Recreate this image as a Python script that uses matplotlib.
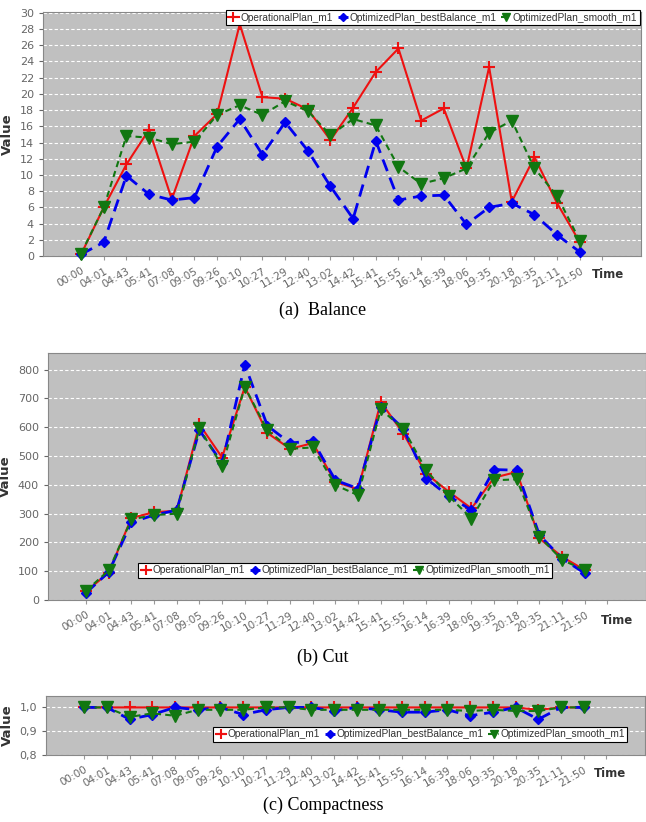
import matplotlib
matplotlib.use("Agg")
from matplotlib import pyplot as plt
from matplotlib.ticker import MultipleLocator, FuncFormatter

times = ["00:00", "04:01", "04:43", "05:41", "07:08", "09:05", "09:26", "10:10",
         "10:27", "11:29", "12:40", "13:02", "14:42", "15:41", "15:55", "16:14",
         "16:39", "18:06", "19:35", "20:18", "20:35", "21:11", "21:50"]
series_names = ["OperationalPlan_m1", "OptimizedPlan_bestBalance_m1", "OptimizedPlan_smooth_m1"]

# (a) Balance
balance_op = [0.2, 6.0, 11.3, 15.6, 7.0, 14.8, 17.5, 28.6, 19.6, 19.4, 18.1, 14.3,
              18.3, 22.7, 25.6, 16.7, 18.2, 10.8, 23.3, 6.7, 12.2, 6.5, 1.7]
balance_best = [0.2, 1.7, 9.9, 7.6, 6.9, 7.2, 13.5, 16.9, 12.5, 16.5, 13.0, 8.6,
                4.6, 14.2, 6.9, 7.4, 7.5, 3.9, 6.0, 6.5, 5.1, 2.6, 0.5]
balance_smooth = [0.3, 6.0, 14.8, 14.6, 13.8, 14.1, 17.4, 18.6, 17.4, 19.1, 17.9, 14.9,
                  16.9, 16.1, 11.0, 8.9, 9.6, 10.8, 15.2, 16.7, 10.8, 7.4, 1.9]

# (b) Cut
cut_op = [30, 95, 285, 305, 310, 610, 495, 740, 580, 525, 545, 410,
          385, 688, 578, 439, 376, 318, 425, 445, 214, 150, 104]
cut_best = [25, 97, 270, 295, 312, 590, 475, 818, 605, 545, 553, 416,
            387, 670, 595, 422, 361, 312, 453, 451, 225, 144, 93]
cut_smooth = [32, 103, 280, 295, 300, 597, 465, 740, 590, 525, 530, 399,
              364, 662, 595, 451, 361, 283, 416, 419, 220, 139, 104]

# (c) Compactness
comp_op = [1.0, 1.0, 1.0, 1.0, 1.0, 1.0, 1.0, 1.0, 1.0, 1.0, 1.0, 1.0,
           1.0, 1.0, 1.0, 1.0, 1.0, 1.0, 1.0, 1.0, 0.99, 1.0, 1.0]
comp_best = [1.0, 1.0, 0.95, 0.97, 1.0, 0.99, 1.0, 0.97, 0.99, 1.0, 1.0, 0.985,
             1.0, 0.99, 0.98, 0.98, 0.99, 0.965, 0.98, 1.0, 0.95, 1.0, 1.0]
comp_smooth = [1.0, 1.0, 0.96, 0.975, 0.965, 0.99, 0.99, 0.99, 1.0, 1.0, 0.99, 0.99,
               0.99, 0.99, 0.99, 0.99, 0.99, 0.985, 0.99, 0.985, 0.985, 1.0, 1.0]

W, H = 646, 822
fig = plt.figure(figsize=(W / 100, H / 100), dpi=100)

RED = "#ee1111"
BLUE = "#0000ee"
GREEN = "#117711"
TICK_C = "#666666"


def box(left, top, right, bottom):
    return [left / W, 1 - bottom / H, (right - left) / W, (bottom - top) / H]


def draw_panel(rect, op, best, smooth, ylim, step, fmt, legend_loc, time_xy, caption, cap_y):
    ax = fig.add_axes(box(*rect))
    x = list(range(len(times)))
    ax.set_facecolor("#c0c0c0")
    ax.plot(x, op, color=RED, lw=1.5, marker="+", ms=9, mew=1.5, clip_on=False,
            label=series_names[0], zorder=3)
    ax.plot(x, best, color=BLUE, lw=2, ls=(0, (4.5, 2.5)), marker="D", ms=5.5, clip_on=False,
            label=series_names[1], zorder=4)
    ax.plot(x, smooth, color=GREEN, lw=1.5, ls=(0, (3, 2)), marker="v", ms=8, clip_on=False,
            label=series_names[2], zorder=5)
    ax.set_xlim(-1.68, 24.7)
    ax.set_ylim(*ylim)
    ax.yaxis.set_major_locator(MultipleLocator(step))
    ax.yaxis.set_major_formatter(FuncFormatter(fmt))
    ax.yaxis.grid(True, color="white", ls=(0, (3, 2)), lw=0.8)
    ax.set_axisbelow(True)
    ax.set_xticks(x + [23])
    ax.set_xticklabels(times + [""], rotation=30, ha="right", rotation_mode="anchor",
                       fontsize=7.5, color=TICK_C)
    ax.tick_params(axis="y", labelsize=8, colors=TICK_C, length=3)
    ax.tick_params(axis="x", length=3, colors="#999999", labelcolor=TICK_C, pad=4)
    for s in ax.spines.values():
        s.set_color("#888888")
    ax.set_ylabel("Value", fontsize=9.5, fontweight="bold", color="#333333", labelpad=4)
    fig.text(time_xy[0] / W, 1 - time_xy[1] / H, "Time", fontsize=8.5, fontweight="bold",
             color="#333333", ha="center", va="center")
    leg = ax.legend(ncol=3, fontsize=7.3, handlelength=1.0, handletextpad=0.15,
                    columnspacing=0.5, borderpad=0.25, markerscale=0.75, fancybox=False,
                    framealpha=1, edgecolor="black", loc=legend_loc[0],
                    bbox_to_anchor=legend_loc[1], bbox_transform=fig.transFigure,
                    prop={"family": "Liberation Sans", "size": 7.3})
    leg.get_frame().set_linewidth(0.8)
    for t in leg.get_texts():
        t.set_color("#333333")
    fig.text(0.5, 1 - cap_y / H, caption, fontsize=13, family="Liberation Serif",
             ha="center", va="center")
    return ax


draw_panel((43, 12, 641, 256), balance_op, balance_best, balance_smooth, (0, 30.1), 2,
           lambda v, p: f"{v:.0f}", ("upper right", (645 / W, 1 - 5 / H)),
           (608, 275), "(a)  Balance", 310)
draw_panel((48, 353, 646, 600), cut_op, cut_best, cut_smooth, (0, 858), 100,
           lambda v, p: f"{v:.0f}", ("lower left", (133 / W, 1 - 583 / H)),
           (617, 620), "(b) Cut", 657)
draw_panel((46, 696, 645, 755), comp_op, comp_best, comp_smooth, (0.8, 1.048), 0.1,
           lambda v, p: f"{v:.1f}".replace(".", ","), ("lower left", (208 / W, 1 - 747 / H)),
           (610, 773), "(c) Compactness", 805)

fig.savefig("out.png", dpi=100)
